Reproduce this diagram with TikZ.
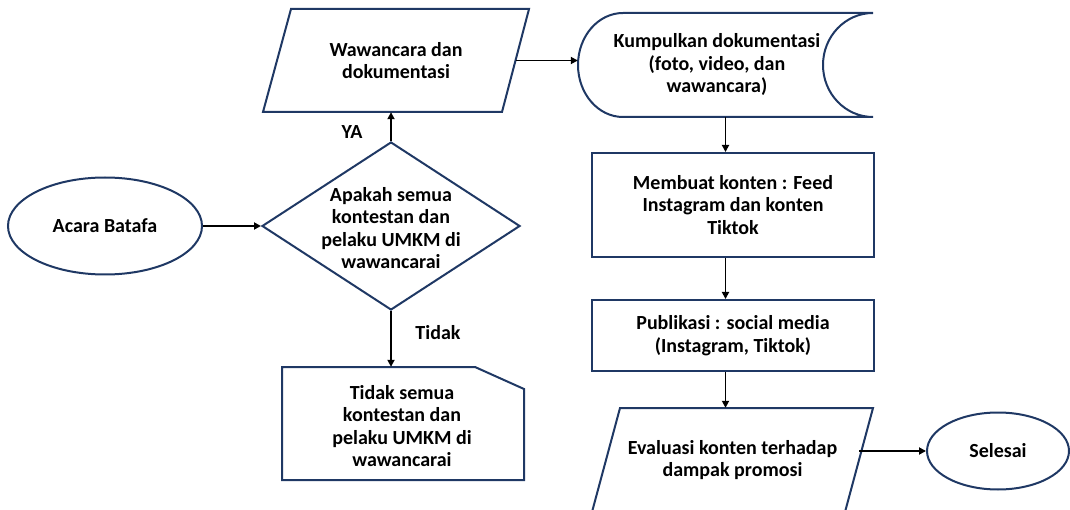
\documentclass[tikz,border=0pt]{standalone}
\usepackage{fontspec}
\setmainfont{Carlito}
\usetikzlibrary{shapes.geometric,arrows.meta}
\definecolor{garisbiru}{RGB}{31,56,100}

\begin{document}
\begin{tikzpicture}[x=1pt,y=1pt]
\tikzstyle{every node}+=[inner sep=0pt, align=center, font=\fontsize{20}{22.5}\selectfont\bfseries]
\tikzstyle{bentuk}=[draw=garisbiru, line width=2pt]
\tikzstyle{panah}=[draw=black, line width=1.8pt, -{Triangle[length=7pt,width=7pt]}]
\useasboundingbox (0,0) rectangle (1070,-510);
% kiri
\node[bentuk, ellipse, minimum width=194, minimum height=97] (acara) at (105,-226) {Acara Batafa};
\node[bentuk, diamond, minimum width=258, minimum height=168] (tanya) at (391,-226) {};
\node (tanyateks) at (391,-228) {Apakah semua\\kontestan dan\\pelaku UMKM di\\wawancarai};
\node[minimum width=239, minimum height=103] (wawancara) at (396,-60.5) {Wawancara dan\\dokumentasi};
\draw[bentuk] (291,-9) -- (529,-9) -- (502,-112) -- (263,-112) -- cycle;
\node[minimum width=242, minimum height=113] (tidak) at (403,-423.5) {};
\draw[bentuk] (282,-367) -- (475,-367) -- (524,-389) -- (524,-480) -- (282,-480) -- cycle;
\node (tidakteks) at (402,-426) {Tidak semua\\kontestan dan\\pelaku UMKM di\\wawancarai};
\node (ya) at (352,-132) {YA};
\node (tdk) at (438,-333) {Tidak};
% kanan
\node[minimum width=295, minimum height=104] (kumpul) at (725.5,-65) {};
\draw[bentuk] (623,-13) -- (873,-13) arc[start angle=90, end angle=270, x radius=50, y radius=52]
  -- (623,-117) arc[start angle=270, end angle=90, x radius=45, y radius=52] -- cycle;
\node (kumpulteks) at (717,-65) {Kumpulkan dokumentasi\\(foto, video, dan\\wawancara)};
\node[bentuk, minimum width=282, minimum height=104] (membuat) at (733,-205) {Membuat konten : Feed\\Instagram dan konten\\Tiktok};
\node[bentuk, minimum width=282, minimum height=71] (publikasi) at (733,-335.5) {Publikasi : social media\\(Instagram, Tiktok)};
\node[minimum width=253, minimum height=104] (evaluasi) at (732.5,-460) {Evaluasi konten terhadap\\dampak promosi};
\draw[bentuk] (620,-408) -- (873,-408) -- (845,-512) -- (592,-512) -- cycle;
\node[bentuk, ellipse, minimum width=142, minimum height=77] (selesai) at (998,-451) {Selesai};
% panah
\draw[panah] (acara) -- (tanya);
\draw[panah] (tanya.north) -- (tanya.north |- wawancara.south);
\draw[panah] (tanya.south) -- (tanya.south |- tidak.north);
\draw[panah] (wawancara.east) -- (wawancara.east -| kumpul.west);
\draw[panah] (kumpul.south) -- (kumpul.south |- membuat.north);
\draw[panah] (kumpul.south |- membuat.south) -- (kumpul.south |- publikasi.north);
\draw[panah] (kumpul.south |- publikasi.south) -- (kumpul.south |- evaluasi.north);
\draw[panah] (evaluasi.east |- selesai.west) -- (selesai.west);
\end{tikzpicture}
\end{document}
